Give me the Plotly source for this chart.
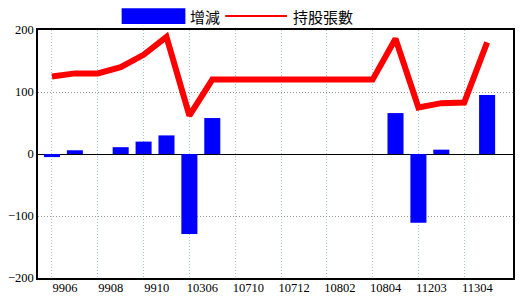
import plotly.graph_objects as go

# ---- data ----
positions = list(range(20))
tick_positions = [0, 2, 4, 6, 8, 10, 12, 14, 16, 18]
tick_labels = ["9906", "9908", "9910", "10306", "10710", "10712", "10802", "10804", "11203", "11304"]
change = [-5, 6, 0, 11, 20, 30, -129, 58, 0, 0, 0, 0, 0, 0, 0, 66, -111, 7, 0, 95]
holdings = [125, 130, 130, 140, 160, 189, 62, 120, 120, 120, 120, 120, 120, 120, 120, 186, 75, 82, 83, 180]
legend_bar = "增減"
legend_line = "持股張數"

x_range = [-0.61, 20.13]
label_shift = 0.57

fig = go.Figure()
fig.add_trace(go.Bar(x=positions, y=change, marker=dict(color="#0000ff", line=dict(width=0)),
                     width=0.7, name=legend_bar, showlegend=False))
fig.add_trace(go.Scatter(x=positions, y=holdings, mode="lines", line=dict(color="#ff0000", width=6),
                         name=legend_line, showlegend=False))
# invisible trace on the label axis
fig.add_trace(go.Scatter(x=[t + label_shift for t in tick_positions], y=[None] * len(tick_positions),
                         xaxis="x2", mode="markers", showlegend=False, hoverinfo="skip"))

tick_font = dict(family="Liberation Serif", size=12.5, color="black")

fig.update_layout(
    width=520, height=300,
    margin=dict(l=38, r=5, t=30, b=20),
    paper_bgcolor="white", plot_bgcolor="white",
    bargap=0.3,
    xaxis=dict(range=x_range, tickvals=tick_positions, showticklabels=False, ticks="",
               showgrid=True, gridcolor="#a8c4d8", griddash="1px,2px", gridwidth=1,
               showline=True, mirror=True, linecolor="black", linewidth=1.5, zeroline=False),
    xaxis2=dict(range=x_range, overlaying="x", side="bottom", tickvals=[t + label_shift for t in tick_positions],
                ticktext=tick_labels, showgrid=False, showline=False, zeroline=False, ticks="",
                tickfont=tick_font),
    yaxis=dict(range=[-200, 200], tickvals=[-200, -100, 0, 100, 200], ticks="",
               showgrid=True, gridcolor="#999999", griddash="1px,2px", gridwidth=1,
               zeroline=True, zerolinecolor="black", zerolinewidth=1,
               showline=True, mirror=True, linecolor="black", linewidth=1.5,
               tickfont=tick_font),
    font=dict(family="Liberation Serif", color="black"),
)

# custom legend (pixel -> paper conversion)
L, R, T, B = 38, 515, 30, 280
px = lambda v: (v - L) / (R - L)
py = lambda v: (B - v) / (B - T)
fig.add_shape(type="rect", xref="paper", yref="paper", x0=px(122), x1=px(186), y0=py(24), y1=py(8),
              fillcolor="#0000ff", line=dict(width=0))
fig.add_shape(type="line", xref="paper", yref="paper", x0=px(226), x1=px(288), y0=py(16), y1=py(16),
              line=dict(color="#ff0000", width=2))
legend_font = dict(family="Noto Sans CJK TC", size=15, color="black")
fig.add_annotation(xref="paper", yref="paper", x=px(189), y=py(16), text=legend_bar, showarrow=False,
                   xanchor="left", yanchor="middle", font=legend_font)
fig.add_annotation(xref="paper", yref="paper", x=px(292), y=py(16), text=legend_line, showarrow=False,
                   xanchor="left", yanchor="middle", font=legend_font)

fig.write_html("out.html")
